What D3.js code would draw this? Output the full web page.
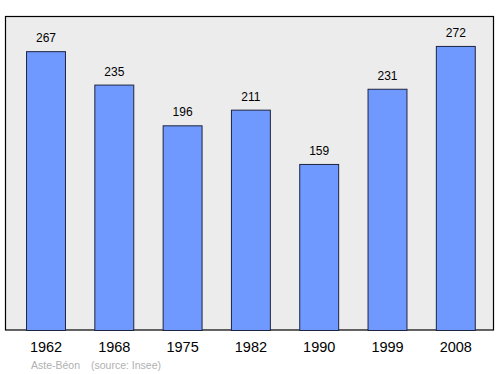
<!DOCTYPE html>
<html><head><meta charset="utf-8">
<script src="https://cdn.jsdelivr.net/npm/d3@7"></script>
<style>body{margin:0;background:#fff}svg{display:block}text{font-family:"Liberation Sans",Arial,sans-serif}</style>
</head><body>
<script>
const years = ["1962","1968","1975","1982","1990","1999","2008"];
const population = [267,235,196,211,159,231,272];
const commune = "Aste-Béon";
const source = "(source: Insee)";

const W = 500, H = 374;
const svg = d3.select("body").append("svg").attr("width", W).attr("height", H);

const frame = {x0: 5.5, y0: 16.5, x1: 493.5, y1: 330};
const x = d3.scaleBand().domain(years).range([11.35, 489.45]).paddingInner(0.43).paddingOuter(0.215);
const y = d3.scaleLinear().domain([0, 300]).range([330, 16.7]);

svg.append("rect").attr("x", frame.x0).attr("y", frame.y0)
  .attr("width", frame.x1 - frame.x0).attr("height", frame.y1 - frame.y0)
  .attr("fill", "#ececec").attr("stroke", "#000").attr("stroke-width", 1.2);

const g = svg.append("g");
g.selectAll("rect.bar").data(years).join("rect").attr("class","bar")
  .attr("x", d => x(d) + 0.5)
  .attr("y", (d,i) => y(population[i]) + 0.5)
  .attr("width", x.bandwidth())
  .attr("height", (d,i) => y(0) - y(population[i]))
  .attr("fill", "#7099ff").attr("stroke", "#1e2440").attr("stroke-width", 1);

g.selectAll("text.val").data(years).join("text").attr("class","val")
  .attr("x", d => x(d) + x.bandwidth()/2 + 0.5)
  .attr("y", (d,i) => y(population[i]) - 9)
  .attr("text-anchor","middle").attr("font-size", 12).attr("fill","#000")
  .text((d,i) => population[i]);

const axis = d3.axisBottom(x).tickSize(0).tickPadding(0);
const ax = svg.append("g").attr("transform", "translate(0.5,0)").call(axis);
ax.select(".domain").remove();
ax.selectAll("text").attr("y", 352).attr("dy", 0).attr("font-size", 14.5).attr("fill","#000")
  .style("font-family", '"Liberation Sans",Arial,sans-serif');

svg.append("text").attr("x", 31).attr("y", 369).attr("font-size", 10.5).attr("fill","#b0b0b0").text(commune);
svg.append("text").attr("x", 91).attr("y", 369).attr("font-size", 10.5).attr("fill","#b0b0b0").text(source);
</script>
</body></html>
